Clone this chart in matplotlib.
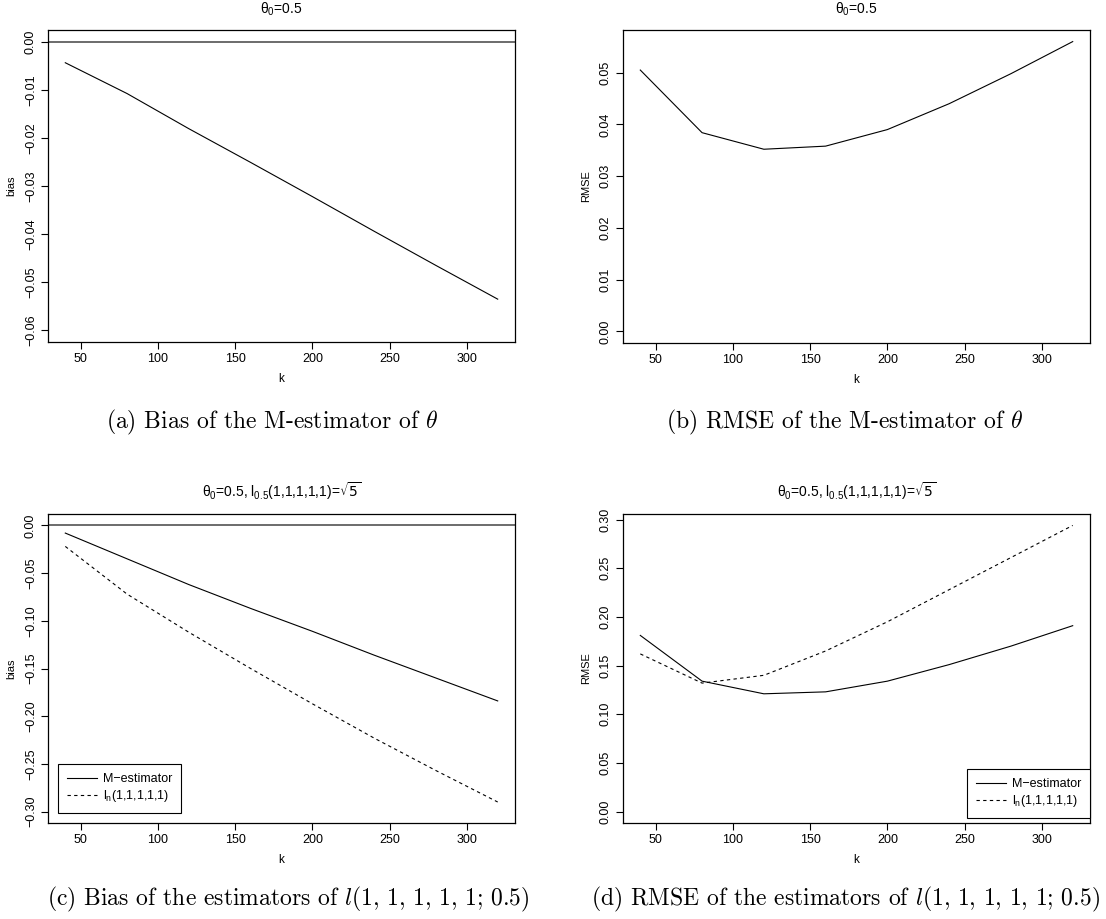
import matplotlib
matplotlib.use("Agg")
import matplotlib.pyplot as plt
from matplotlib.lines import Line2D

k = [40, 80, 120, 160, 200, 240, 280, 320]
x_ticks = [50, 100, 150, 200, 250, 300]

# (a) bias of the M-estimator of theta
bias_theta = [-0.0044, -0.0108, -0.0181, -0.0251, -0.0322, -0.0394, -0.0465, -0.0535]
# (b) RMSE of the M-estimator of theta
rmse_theta = [0.0505, 0.0384, 0.0352, 0.0358, 0.0390, 0.0440, 0.0498, 0.0560]
# (c) bias of the estimators of l
bias_l_m = [-0.008, -0.035, -0.062, -0.087, -0.111, -0.136, -0.160, -0.184]
bias_l_n = [-0.022, -0.072, -0.112, -0.150, -0.187, -0.223, -0.257, -0.290]
# (d) RMSE of the estimators of l
rmse_l_m = [0.181, 0.134, 0.121, 0.123, 0.134, 0.151, 0.170, 0.191]
rmse_l_n = [0.162, 0.132, 0.140, 0.165, 0.195, 0.228, 0.261, 0.294]

ticks_a = [0.00, -0.01, -0.02, -0.03, -0.04, -0.05, -0.06]
ticks_b = [0.00, 0.01, 0.02, 0.03, 0.04, 0.05]
ticks_c = [0.00, -0.05, -0.10, -0.15, -0.20, -0.25, -0.30]
ticks_d = [0.00, 0.05, 0.10, 0.15, 0.20, 0.25, 0.30]

title_1 = "\u03b8$_\\mathregular{0}$=0.5"
title_2 = "\u03b8$_\\mathregular{0}$=0.5, l$_\\mathregular{0.5}$(1,1,1,1,1)=$\\sqrt{5}$"
legend_labels = ["M\u2212estimator", r"l$_\mathregular{n}$(1,1,1,1,1)"]
captions = [
    r"(a) Bias of the M-estimator of $\theta$",
    r"(b) RMSE of the M-estimator of $\theta$",
    r"(c) Bias of the estimators of $l(1,\,1,\,1,\,1,\,1;\,0.5)$",
    r"(d) RMSE of the estimators of $l(1,\,1,\,1,\,1,\,1;\,0.5)$",
]

plt.rcParams["font.family"] = ["Liberation Sans", "DejaVu Sans"]
plt.rcParams["mathtext.fontset"] = "dejavusans"

W, H = 1106, 919
fig = plt.figure(figsize=(W / 100, H / 100), dpi=100)


def rect(x0, y0, x1, y1):
    return [x0 / W, 1 - y1 / H, (x1 - x0) / W, (y1 - y0) / H]


def r_range(lo, hi):
    d = (hi - lo) * 0.04
    return lo - d, hi + d


def style(ax, yticks, ylim, ylabel, title):
    ax.set_xlim(*r_range(40, 320))
    ax.set_ylim(*r_range(*ylim))
    ax.set_xticks(x_ticks)
    ax.set_xticklabels([str(t) for t in x_ticks])
    ax.set_yticks(yticks)
    ax.set_yticklabels([f"{t:.2f}".replace("-", "\u2212") for t in yticks],
                       rotation=90, va="center")
    ax.tick_params(direction="out", length=5, width=0.8, labelsize=9, pad=3)
    for s in ax.spines.values():
        s.set_linewidth(0.9)
    ax.set_xlabel("k", fontsize=8.5, labelpad=6)
    ax.set_ylabel(ylabel, fontsize=8, labelpad=6)
    ax.set_title(title, fontsize=10, pad=12)


ax_a = fig.add_axes(rect(48, 30, 515, 342))
ax_a.plot(k, bias_theta, color="black", lw=0.8)
ax_a.axhline(0, color="#444444", lw=1.1)
style(ax_a, ticks_a, (-0.06, 0.0), "bias", title_1)

ax_b = fig.add_axes(rect(623, 30, 1090, 343))
ax_b.plot(k, rmse_theta, color="black", lw=0.8)
style(ax_b, ticks_b, (0.0, max(rmse_theta)), "RMSE", title_1)

ax_c = fig.add_axes(rect(48, 514, 515, 823))
ax_c.plot(k, bias_l_m, color="black", lw=0.8)
ax_c.plot(k, bias_l_n, color="black", lw=0.8, dashes=(3, 3))
ax_c.axhline(0, color="#444444", lw=1.1)
style(ax_c, ticks_c, (-0.30, 0.0), "bias", title_2)

ax_d = fig.add_axes(rect(623, 514, 1090, 823))
ax_d.plot(k, rmse_l_m, color="black", lw=0.8)
ax_d.plot(k, rmse_l_n, color="black", lw=0.8, dashes=(3, 3))
style(ax_d, ticks_d, (0.0, max(rmse_l_n)), "RMSE", title_2)

handles = [Line2D([], [], color="black", lw=0.8),
           Line2D([], [], color="black", lw=0.8, dashes=(3, 3))]
leg_kw = dict(fontsize=9, fancybox=False, edgecolor="black", framealpha=1,
              handlelength=2.4, handletextpad=0.5, labelspacing=0.25,
              borderpad=0.7)
leg_c = ax_c.legend(handles, legend_labels, loc="lower left",
                    borderaxespad=0.8, **leg_kw)
leg_d = ax_d.legend(handles, legend_labels, loc="lower right",
                    bbox_to_anchor=(1.0, 0.016), borderaxespad=0.0, **leg_kw)
for leg in (leg_c, leg_d):
    leg.get_frame().set_linewidth(0.8)

cap_kw = dict(fontsize=17, family="cmr10", math_fontfamily="cm",
              ha="center", va="baseline")
fig.text(272 / W, 1 - 428 / H, captions[0], **cap_kw)
fig.text(845 / W, 1 - 428 / H, captions[1], **cap_kw)
fig.text(288 / W, 1 - 905 / H, captions[2], **cap_kw)
fig.text(845 / W, 1 - 905 / H, captions[3], **cap_kw)

fig.savefig("out.png", dpi=100)
